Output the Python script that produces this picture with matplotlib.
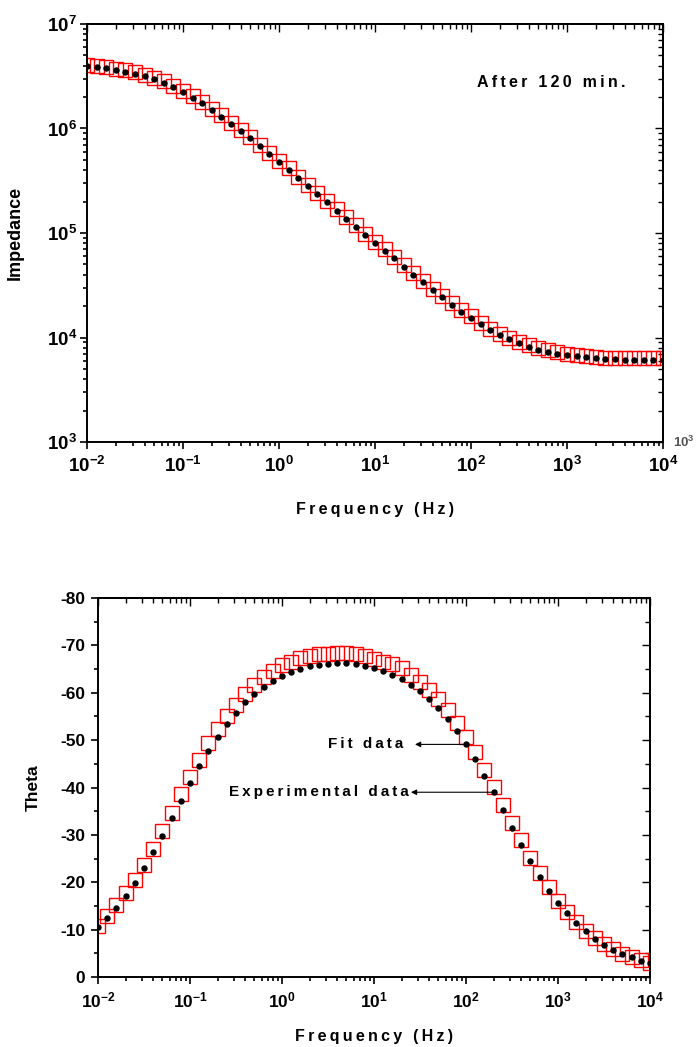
import matplotlib
matplotlib.use("Agg")
import matplotlib.pyplot as plt
import matplotlib.ticker as mticker
import numpy as np

plt.rcParams.update({
    "font.family": ["Liberation Sans", "DejaVu Sans"],
    "font.weight": "bold",
    "mathtext.fontset": "custom",
    "mathtext.rm": "Liberation Sans",
    "mathtext.bf": "Liberation Sans:bold",
    "axes.unicode_minus": False,
})

# measurement frequencies (Hz), 10 points per decade
freq = [0.01, 0.0126, 0.0158, 0.02, 0.0251, 0.0316, 0.0398, 0.0501, 0.0631, 0.0794,
        0.1, 0.126, 0.158, 0.2, 0.251, 0.316, 0.398, 0.501, 0.631, 0.794,
        1, 1.26, 1.58, 2, 2.51, 3.16, 3.98, 5.01, 6.31, 7.94,
        10, 12.6, 15.8, 20, 25.1, 31.6, 39.8, 50.1, 63.1, 79.4,
        100, 126, 158, 200, 251, 316, 398, 501, 631, 794,
        1000, 1260, 1580, 2000, 2510, 3160, 3980, 5010, 6310, 7940, 10000]

# |Z| experimental (black dots) and fit (red squares)
z_exp = [3.96e6, 3.85e6, 3.77e6, 3.63e6, 3.50e6, 3.34e6, 3.16e6, 2.96e6, 2.74e6, 2.48e6,
         2.23e6, 1.97e6, 1.74e6, 1.50e6, 1.30e6, 1.11e6, 9.46e5, 8.06e5, 6.80e5, 5.70e5,
         4.78e5, 4.03e5, 3.36e5, 2.82e5, 2.36e5, 1.97e5, 1.63e5, 1.37e5, 1.15e5, 9.57e4,
         8.02e4, 6.78e4, 5.73e4, 4.76e4, 3.99e4, 3.37e4, 2.85e4, 2.43e4, 2.06e4, 1.77e4,
         1.54e4, 1.35e4, 1.18e4, 1.06e4, 9.61e3, 8.80e3, 8.17e3, 7.64e3, 7.31e3, 7.00e3,
         6.80e3, 6.61e3, 6.46e3, 6.32e3, 6.22e3, 6.18e3, 6.14e3, 6.14e3, 6.14e3, 6.14e3, 6.15e3]
z_fit = [4.08e6, 3.97e6, 3.88e6, 3.74e6, 3.60e6, 3.44e6, 3.25e6, 3.05e6, 2.82e6, 2.56e6,
         2.30e6, 2.03e6, 1.79e6, 1.55e6, 1.34e6, 1.14e6, 9.74e5, 8.30e5, 7.00e5, 5.87e5,
         4.92e5, 4.15e5, 3.46e5, 2.90e5, 2.43e5, 2.03e5, 1.68e5, 1.41e5, 1.18e5, 9.86e4,
         8.26e4, 6.98e4, 5.90e4, 4.90e4, 4.11e4, 3.47e4, 2.94e4, 2.50e4, 2.12e4, 1.82e4,
         1.59e4, 1.39e4, 1.22e4, 1.09e4, 9.90e3, 9.06e3, 8.42e3, 7.87e3, 7.53e3, 7.21e3,
         7.00e3, 6.81e3, 6.65e3, 6.51e3, 6.41e3, 6.37e3, 6.32e3, 6.32e3, 6.32e3, 6.32e3, 6.33e3]

# phase angle (degrees)
theta_exp = [-10.6, -12.4, -14.6, -17.1, -19.8, -22.9, -26.3, -29.8, -33.6, -37.2,
             -41.0, -44.5, -47.7, -50.7, -53.4, -55.8, -58.0, -59.7, -61.2, -62.5,
             -63.5, -64.3, -65.1, -65.6, -65.9, -66.1, -66.2, -66.2, -66.0, -65.6,
             -65.2, -64.6, -63.8, -62.9, -61.7, -60.4, -58.7, -56.8, -54.5, -51.9,
             -49.1, -46.0, -42.5, -39.0, -35.3, -31.5, -27.8, -24.4, -21.2, -18.2,
             -15.7, -13.4, -11.3, -9.6, -8.1, -6.8, -5.7, -4.8, -4.2, -3.4, -2.9]
theta_fit = [-10.8, -12.8, -15.1, -17.7, -20.5, -23.6, -27.1, -30.8, -34.6, -38.6,
             -42.3, -45.9, -49.3, -52.3, -55.0, -57.5, -59.8, -61.7, -63.3, -64.7,
             -65.8, -66.6, -67.3, -67.7, -68.1, -68.2, -68.3, -68.3, -68.1, -67.8,
             -67.2, -66.6, -66.0, -65.2, -63.8, -62.3, -60.6, -58.6, -56.3, -53.7,
             -50.7, -47.4, -43.8, -40.1, -36.3, -32.5, -28.9, -25.2, -21.9, -18.9,
             -16.1, -13.8, -11.6, -9.8, -8.3, -7.0, -5.8, -4.9, -4.2, -3.5, -2.9]

freq_ticks = [1e-2, 1e-1, 1e0, 1e1, 1e2, 1e3, 1e4]
z_ticks = [1e3, 1e4, 1e5, 1e6, 1e7]
theta_ticks = [0, -10, -20, -30, -40, -50, -60, -70, -80]


def spaced(s):
    # Origin-style loose letter spacing
    return "\u2009".join(s)


def pow10(v, pos):
    return r"$\mathbf{10^{%d}}$" % round(np.log10(v))


def frame(ax, log_y):
    for sp in ax.spines.values():
        sp.set_linewidth(1.4)
    ax.tick_params(which="both", direction="out", width=1.2, top=False, right=False)
    ax.tick_params(which="major", length=5)
    ax.tick_params(which="minor", length=3)
    ax.xaxis.set_minor_formatter(mticker.NullFormatter())
    ax.yaxis.set_minor_formatter(mticker.NullFormatter())
    # mirrored ticks on top/right point inward
    sx = ax.secondary_xaxis("top")
    sx.tick_params(which="both", direction="in", width=1.0, labeltop=False)
    sx.tick_params(which="major", length=6)
    sx.tick_params(which="minor", length=3.5)
    sy = ax.secondary_yaxis("right")
    sy.tick_params(which="both", direction="in", width=1.0, labelright=False)
    sy.tick_params(which="major", length=6)
    sy.tick_params(which="minor", length=3.5)
    if not log_y:
        sy.yaxis.set_major_locator(mticker.MultipleLocator(10))
        sy.yaxis.set_minor_locator(mticker.MultipleLocator(5))
    for s in (sx, sy):
        for sp in s.spines.values():
            sp.set_linewidth(1.4)


fig = plt.figure(figsize=(6.97, 10.47), dpi=100)

# ---- impedance ----
ax1 = fig.add_axes([0.1248, 0.5778, 0.8264, 0.3993])
ax1.set_xscale("log")
ax1.set_yscale("log")
ax1.plot(freq, z_fit, ls="none", marker="s", ms=9.5, mfc="none", mec="red", mew=1.0)
ax1.plot(freq, z_exp, ls="none", marker="o", ms=3.6, color="black")
ax1.set_xticks(freq_ticks)
ax1.set_yticks(z_ticks)
ax1.set_xlim(1e-2, 1e4)
ax1.set_ylim(1e3, 1e7)
ax1.xaxis.set_major_formatter(mticker.FuncFormatter(pow10))
ax1.yaxis.set_major_formatter(mticker.FuncFormatter(pow10))
frame(ax1, True)
ax1.tick_params(axis="both", which="major", labelsize=13.5)
ax1.tick_params(axis="x", which="major", pad=5)
ax1.tick_params(axis="y", which="major", pad=2)
ax1.set_xlabel(spaced("Frequency (Hz)"), fontsize=11.5, fontweight="bold", labelpad=19)
ax1.set_ylabel("Impedance", fontsize=13, fontweight="bold", labelpad=17)
ax1.text(0.677, 0.859, spaced("After 120 min."), transform=ax1.transAxes,
         fontsize=11.5, fontweight="bold", ha="left", va="center")
fig.text(673 / 697, 1 - 442 / 1047, r"$10^{3}$", fontsize=9.5, color="#555555",
         ha="left", va="center")

# ---- phase ----
ax2 = fig.add_axes([0.1406, 0.0669, 0.7920, 0.3619])
ax2.set_xscale("log")
ax2.plot(freq, theta_fit, ls="none", marker="s", ms=10, mfc="none", mec="red", mew=1.0)
ax2.plot(freq, theta_exp, ls="none", marker="o", ms=3.6, color="black")
ax2.set_xticks(freq_ticks)
ax2.set_yticks(theta_ticks)
ax2.set_xlim(1e-2, 1e4)
ax2.set_ylim(0, -80)
ax2.yaxis.set_minor_locator(mticker.MultipleLocator(5))
ax2.yaxis.set_major_formatter(mticker.FormatStrFormatter("%d"))
ax2.xaxis.set_major_formatter(mticker.FuncFormatter(pow10))
frame(ax2, False)
ax2.tick_params(axis="both", which="major", labelsize=12.5)
ax2.tick_params(axis="x", which="major", pad=5)
ax2.tick_params(axis="y", which="major", pad=4)
ax2.set_xlabel(spaced("Frequency (Hz)"), fontsize=11.5, fontweight="bold", labelpad=13)
ax2.set_ylabel("Theta", fontsize=12.5, fontweight="bold", labelpad=14)

arrow = dict(arrowstyle="-|>", color="black", lw=0.8, mutation_scale=8, shrinkA=0, shrinkB=0)
ax2.annotate("", xy=(27.9, theta_exp[40]), xytext=(freq[40], theta_exp[40]), arrowprops=arrow)
ax2.annotate("", xy=(25.2, theta_exp[43]), xytext=(freq[43], theta_exp[43]), arrowprops=arrow)
ax2.text(20.6, theta_exp[40], spaced("Fit data"), fontsize=11, fontweight="bold",
         ha="right", va="center")
ax2.text(24.0, theta_exp[43], spaced("Experimental data"), fontsize=11, fontweight="bold",
         ha="right", va="center")

fig.savefig("out.png", dpi=100)
